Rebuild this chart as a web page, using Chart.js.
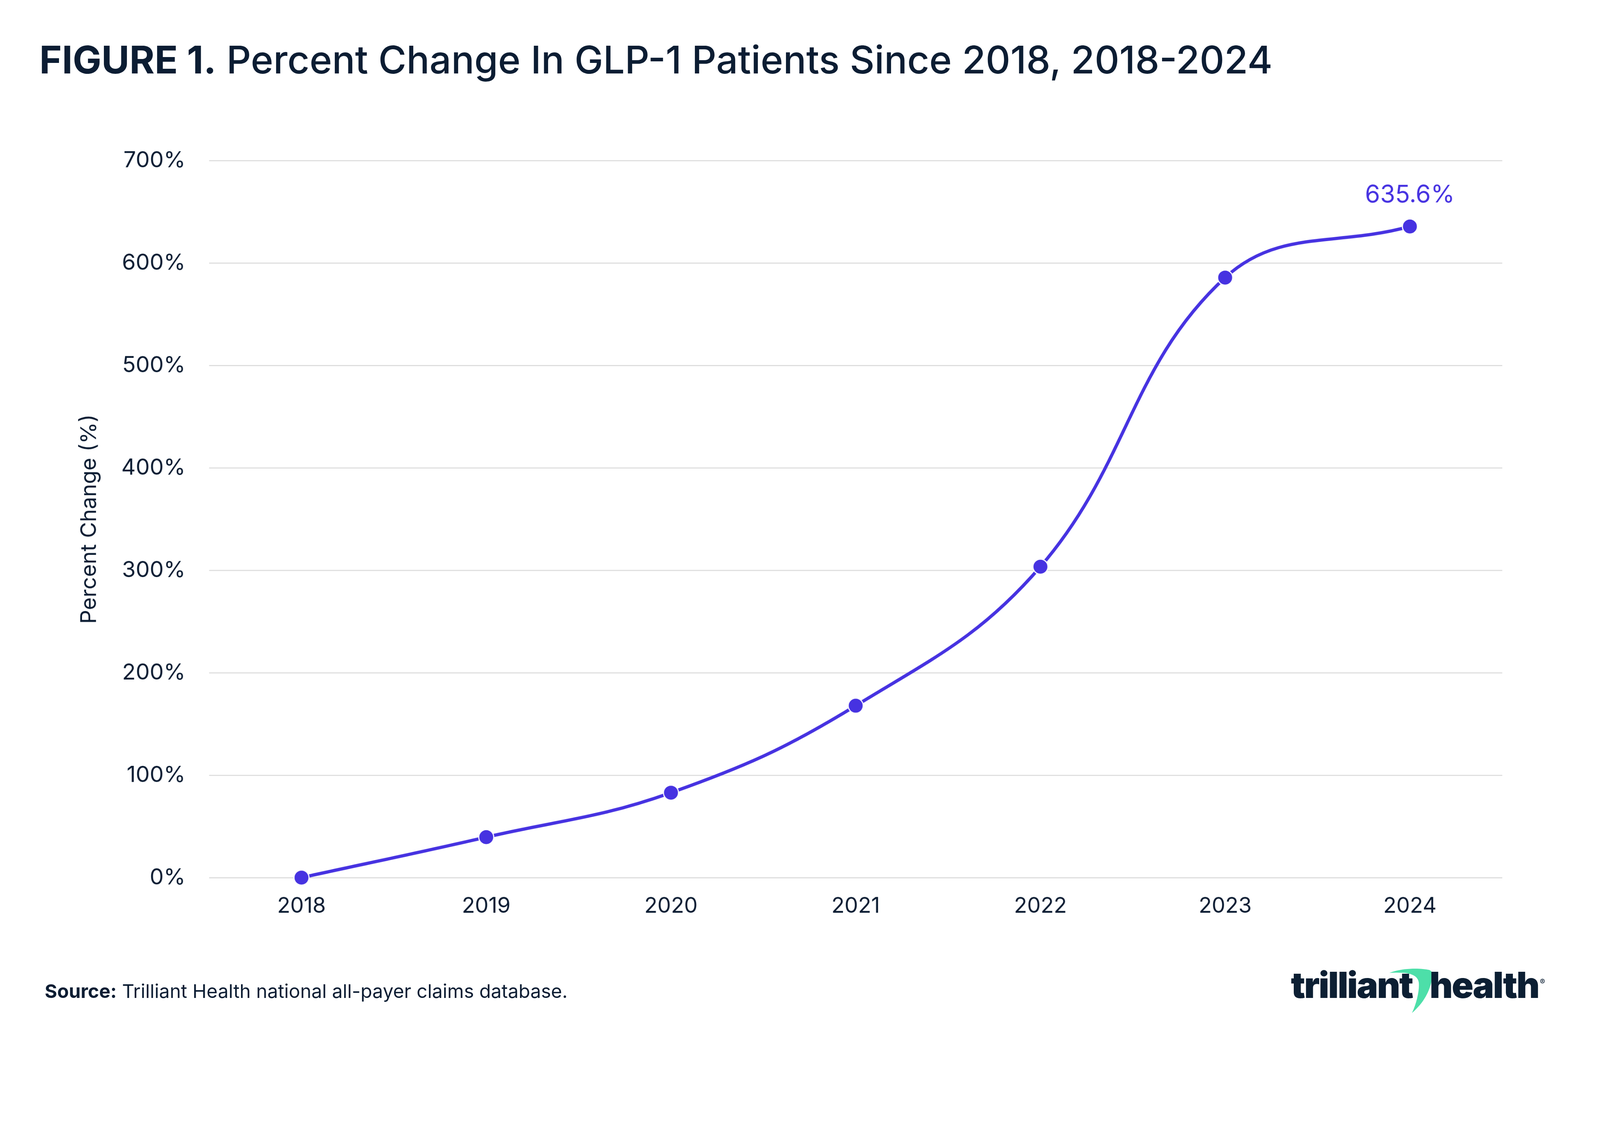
<!DOCTYPE html>
<html>
<head>
<meta charset="utf-8">
<script src="https://cdn.jsdelivr.net/npm/chart.js@4.4.1/dist/chart.umd.min.js"></script>
<style>
  html, body { margin:0; padding:0; background:#ffffff; overflow:hidden; width:100%; height:100%; }
  #viewport { position:fixed; left:0; top:0; right:0; bottom:0; overflow:hidden; background:#ffffff; }
  #page { position:absolute; left:0; top:0; width:4468px; height:2915px; transform-origin:0 0; background:#ffffff;
          font-family: Inter, "Noto Sans", sans-serif; color:#0c1d33; }
  #chartCanvas { position:absolute; left:0; top:0; }
  #title { position:absolute; left:110px; top:102px; font-size:107px; font-weight:500; white-space:nowrap; line-height:1.2; }
  #title b { font-weight:700; }
  #source { position:absolute; left:125px; top:2736px; font-size:53px; font-weight:400; white-space:nowrap; line-height:1.2; }
  #source b { font-weight:700; }
  .logo { position:absolute; top:2690px; font-size:100px; font-weight:900; letter-spacing:-3px; line-height:1.2; white-space:nowrap; color:#0c1f33; }
  #logo1 { left:3605px; }
  #logo2 { left:3992px; }
  #reg { position:absolute; left:4300px; top:2728px; font-size:22px; font-weight:500; color:#0c1f33; }
  #swoosh { position:absolute; left:0; top:0; pointer-events:none; }
</style>
</head>
<body>
<div id="viewport">
<div id="page">
<canvas id="chartCanvas" width="4468" height="2915"></canvas>
<div id="title"><b>FIGURE 1.</b> Percent Change In GLP-1 Patients Since 2018, 2018-2024</div>
<div id="source"><b>Source:</b> Trilliant Health national all-payer claims database.</div>
<svg id="swoosh" width="4468" height="2915" viewBox="0 0 4468 2915">
  <path d="M3880,2716 C3912,2703 3962,2701 3992,2708 L4002,2716 L3999,2733 C3992,2768 3977,2798 3943,2828 C3957,2798 3964,2763 3962,2743 C3960,2728 3947,2719 3922,2716 C3907,2715 3893,2715 3880,2716 Z" fill="#4ddfa9"/>
</svg>
<div class="logo" id="logo1">trilliant</div>
<div class="logo" id="logo2">health</div>
<div id="reg">®</div>
</div>
</div>
<script>
// ---- data ----
const categories = ['2018', '2019', '2020', '2021', '2022', '2023', '2024'];
const percentChange = [0, 39.5, 82.9, 167.8, 303.5, 585.7, 635.6];
const yTickValues = [0, 100, 200, 300, 400, 500, 600, 700];
const yAxisTitle = 'Percent Change (%)';

// ---- fit the 4468x2915 design to the window ----
const W = 4468, H = 2915;
const fitScale = Math.min(window.innerWidth / W, window.innerHeight / H);
document.getElementById('page').style.transform = 'scale(' + fitScale + ')';

// ---- style ----
const lineColor = '#4632e1';
const textColor = '#0c1d33';

const lastLabelPlugin = {
  id: 'lastLabel',
  afterDatasetsDraw(chart) {
    const meta = chart.getDatasetMeta(0);
    const i = percentChange.length - 1;
    const pt = meta.data[i];
    const ctx = chart.ctx;
    ctx.save();
    ctx.font = '400 68px Inter, "Noto Sans", sans-serif';
    ctx.fillStyle = lineColor;
    ctx.textAlign = 'center';
    ctx.textBaseline = 'alphabetic';
    ctx.fillText(percentChange[i].toFixed(1) + '%', pt.x, pt.y - 67);
    ctx.restore();
  }
};

const padLeft = 180;
new Chart(document.getElementById('chartCanvas'), {
  type: 'line',
  data: {
    labels: categories,
    datasets: [{
      data: percentChange,
      borderColor: lineColor,
      borderWidth: 9,
      tension: 0.4,
      fill: false,
      pointRadius: 21,
      pointBackgroundColor: lineColor,
      pointBorderColor: '#ffffff',
      pointBorderWidth: 3,
      clip: false
    }]
  },
  options: {
    responsive: false,
    devicePixelRatio: 1,
    animation: false,
    layout: { padding: { left: padLeft, right: 273, top: 448, bottom: 265 } },
    plugins: { legend: { display: false }, tooltip: { enabled: false }, title: { display: false } },
    scales: {
      x: {
        type: 'category',
        offset: true,
        grid: { display: false, drawTicks: false },
        border: { display: false },
        ticks: { color: textColor, padding: 44, font: { family: 'Inter', size: 60, weight: 400 } },
        afterFit(scale) { scale.height = 200; }
      },
      y: {
        min: 0,
        max: 700,
        afterBuildTicks(scale) { scale.ticks = yTickValues.map(v => ({ value: v })); },
        grid: { color: '#dcdcdc', lineWidth: 3, drawTicks: false },
        border: { display: false },
        ticks: { color: textColor, padding: 66, font: { family: 'Inter', size: 62, weight: 400 }, callback: v => v + '%' },
        title: { display: true, text: yAxisTitle, color: textColor, padding: { top: 33, bottom: 0 }, font: { family: 'Inter', size: 61, weight: 400 } },
        afterFit(scale) { scale.width = 584 - padLeft; }
      }
    }
  },
  plugins: [lastLabelPlugin]
});
</script>
</body>
</html>
